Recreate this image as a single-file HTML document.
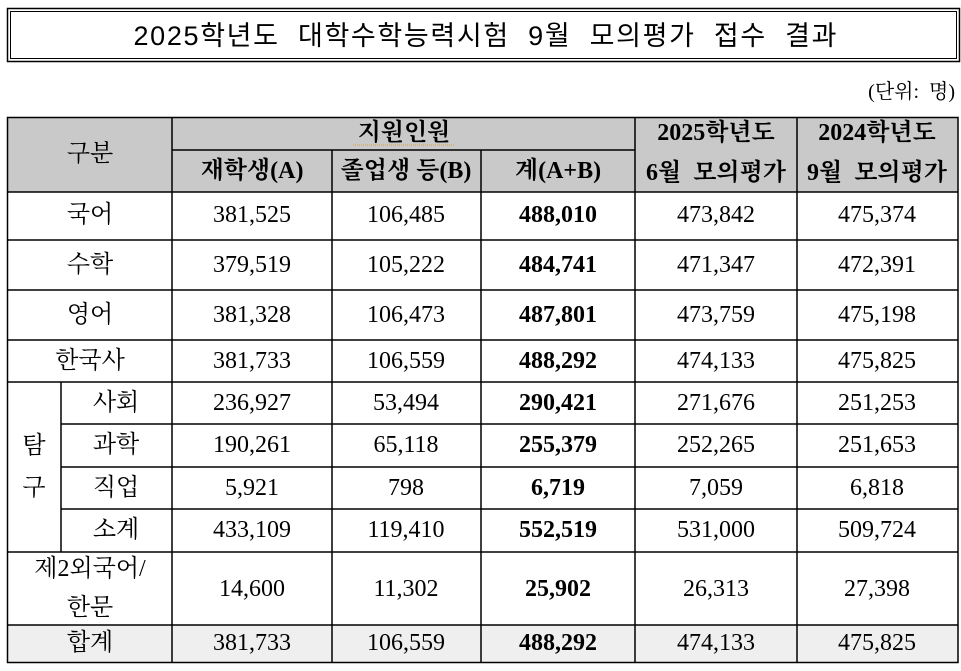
<!DOCTYPE html>
<html><head><meta charset="utf-8"><style>
html,body{margin:0;padding:0;background:#fff;width:961px;height:671px;overflow:hidden}
svg text{font-family:"Liberation Serif","Noto Serif CJK KR","Noto Serif CJK SC",serif;font-size:24px;fill:#000;white-space:pre}
.s{font-family:"Liberation Sans","Noto Sans CJK KR",sans-serif}
.b{font-weight:bold}
</style></head><body>
<svg width="961" height="671" viewBox="0 0 961 671" xmlns="http://www.w3.org/2000/svg" xml:space="preserve">
<rect x="7.5" y="8.5" width="952" height="53" fill="none" stroke="#000" stroke-width="1.5"/>
<rect x="10.5" y="11.5" width="946" height="47" fill="none" stroke="#000" stroke-width="1"/>
<text class="s" x="485" y="36" text-anchor="middle" dominant-baseline="central" style="font-size:27px" textLength="703" lengthAdjust="spacing">2025학년도  대학수학능력시험  9월  모의평가  접수  결과</text>
<text x="955" y="92" text-anchor="end" dominant-baseline="central" style="font-size:20px">(단위:  명)</text>
<rect x="7" y="117" width="951" height="75" fill="#c9c9c9"/>
<rect x="7" y="625" width="951" height="37" fill="#efefef"/>
<g stroke="#000" stroke-width="1.5" fill="none">
<rect x="7.5" y="117.5" width="950.5" height="545"/>
<line x1="172" y1="150" x2="635" y2="150"/>
<line x1="7" y1="192" x2="958" y2="192"/>
<line x1="7" y1="240" x2="958" y2="240"/>
<line x1="7" y1="290" x2="958" y2="290"/>
<line x1="7" y1="340" x2="958" y2="340"/>
<line x1="7" y1="382" x2="958" y2="382"/>
<line x1="61" y1="424" x2="958" y2="424"/>
<line x1="61" y1="467" x2="958" y2="467"/>
<line x1="61" y1="509" x2="958" y2="509"/>
<line x1="7" y1="552" x2="958" y2="552"/>
<line x1="7" y1="625" x2="958" y2="625"/>
<line x1="172" y1="117" x2="172" y2="662"/>
<line x1="332" y1="150" x2="332" y2="662"/>
<line x1="481" y1="150" x2="481" y2="662"/>
<line x1="635" y1="117" x2="635" y2="662"/>
<line x1="797" y1="117" x2="797" y2="662"/>
<line x1="61" y1="382" x2="61" y2="552"/>
</g>
<line x1="353" y1="145" x2="455" y2="145" stroke="#e0a040" stroke-width="1" stroke-dasharray="1,1"/>
<g text-anchor="middle" dominant-baseline="central">
<text x="90" y="154">구분</text>
<text x="404" y="133" class="b">지원인원</text>
<text x="252" y="171" class="b">재학생(A)</text>
<text x="406" y="171" class="b">졸업생 등(B)</text>
<text x="558" y="171" class="b">계(A+B)</text>
<text x="716" y="133" class="b">2025학년도</text>
<text x="716" y="173" class="b">6월  모의평가</text>
<text x="877" y="133" class="b">2024학년도</text>
<text x="877" y="173" class="b">9월  모의평가</text>

<text x="90" y="215">국어</text>
<text x="90" y="265">수학</text>
<text x="90" y="315">영어</text>
<text x="90" y="361">한국사</text>
<text x="34" y="446">탐</text>
<text x="34" y="488">구</text>
<text x="116" y="403">사회</text>
<text x="116" y="445">과학</text>
<text x="116" y="488">직업</text>
<text x="116" y="530">소계</text>
<text x="90" y="569">제2외국어/</text>
<text x="90" y="608">한문</text>
<text x="90" y="643">합계</text>

<g>
<text x="252" y="215">381,525</text><text x="406" y="215">106,485</text><text x="558" y="215" class="b">488,010</text><text x="716" y="215">473,842</text><text x="877" y="215">475,374</text>
<text x="252" y="265">379,519</text><text x="406" y="265">105,222</text><text x="558" y="265" class="b">484,741</text><text x="716" y="265">471,347</text><text x="877" y="265">472,391</text>
<text x="252" y="315">381,328</text><text x="406" y="315">106,473</text><text x="558" y="315" class="b">487,801</text><text x="716" y="315">473,759</text><text x="877" y="315">475,198</text>
<text x="252" y="361">381,733</text><text x="406" y="361">106,559</text><text x="558" y="361" class="b">488,292</text><text x="716" y="361">474,133</text><text x="877" y="361">475,825</text>
<text x="252" y="403">236,927</text><text x="406" y="403">53,494</text><text x="558" y="403" class="b">290,421</text><text x="716" y="403">271,676</text><text x="877" y="403">251,253</text>
<text x="252" y="445">190,261</text><text x="406" y="445">65,118</text><text x="558" y="445" class="b">255,379</text><text x="716" y="445">252,265</text><text x="877" y="445">251,653</text>
<text x="252" y="488">5,921</text><text x="406" y="488">798</text><text x="558" y="488" class="b">6,719</text><text x="716" y="488">7,059</text><text x="877" y="488">6,818</text>
<text x="252" y="530">433,109</text><text x="406" y="530">119,410</text><text x="558" y="530" class="b">552,519</text><text x="716" y="530">531,000</text><text x="877" y="530">509,724</text>
<text x="252" y="589">14,600</text><text x="406" y="589">11,302</text><text x="558" y="589" class="b">25,902</text><text x="716" y="589">26,313</text><text x="877" y="589">27,398</text>
<text x="252" y="643">381,733</text><text x="406" y="643">106,559</text><text x="558" y="643" class="b">488,292</text><text x="716" y="643">474,133</text><text x="877" y="643">475,825</text>
</g>
</g>
</svg>
</body></html>
